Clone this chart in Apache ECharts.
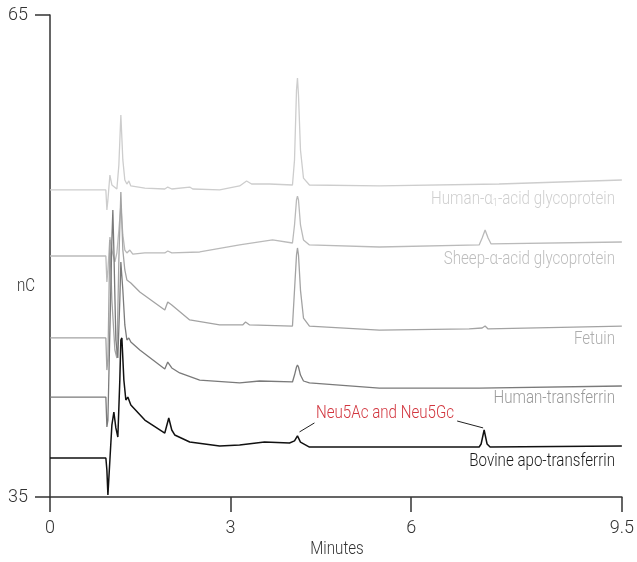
<!DOCTYPE html>
<html>
<head>
<meta charset="utf-8">
<script src="https://cdn.jsdelivr.net/npm/echarts@6/dist/echarts.min.js"></script>
<style>
html,body{margin:0;padding:0;background:#fff;}
#chart{width:637px;height:562px;}
</style>
</head>
<body>
<div id="chart"></div>
<script>
// ---- Data (minutes, nC) ----
const xTicks = [0, 3, 6, 9.5];
const yTicks = [35, 65];

const tAlpha1 = [0, 0.928, 0.945, 0.962, 0.995, 1.028, 1.111, 1.144, 1.177, 1.210, 1.243, 1.277, 1.310, 1.343, 1.575, 1.907, 1.956, 2.023, 2.321, 2.371, 2.818, 3.150, 3.266, 3.349, 3.647, 4.028, 4.062, 4.095, 4.111, 4.128, 4.161, 4.211, 4.310, 5.471, 7.460, 9.5];
const vAlpha1 = [54.11, 54.11, 52.86, 53.49, 55.04, 54.42, 54.17, 55.66, 58.78, 55.98, 54.73, 54.48, 54.67, 54.36, 54.23, 54.17, 54.29, 54.17, 54.29, 54.17, 54.11, 54.36, 54.67, 54.48, 54.48, 54.42, 55.98, 60.33, 61.08, 60.02, 56.6, 54.85, 54.42, 54.36, 54.48, 54.73];

const tSheep = [0, 0.928, 0.945, 0.962, 0.995, 1.028, 1.078, 1.111, 1.144, 1.177, 1.210, 1.243, 1.277, 1.326, 1.376, 1.575, 1.907, 1.956, 2.023, 2.487, 3.150, 3.697, 4.028, 4.062, 4.095, 4.111, 4.128, 4.161, 4.211, 4.310, 5.471, 7.129, 7.179, 7.228, 7.278, 7.328, 9.5];
const vSheep = [50.0, 50.0, 48.38, 49.13, 51.18, 50.37, 49.63, 50.19, 51.62, 53.17, 51.31, 50.37, 50.19, 50.37, 50.12, 50.19, 50.19, 50.31, 50.19, 50.25, 50.69, 51.0, 50.81, 51.93, 53.49, 53.73, 53.49, 51.93, 51.0, 50.69, 50.56, 50.69, 51.12, 51.62, 51.12, 50.75, 50.87];

const tFetuin = [0, 0.928, 0.945, 0.962, 0.995, 1.028, 1.078, 1.111, 1.144, 1.177, 1.210, 1.243, 1.277, 1.310, 1.343, 1.492, 1.907, 1.956, 2.023, 2.321, 2.818, 3.2, 3.249, 3.316, 4.028, 4.062, 4.095, 4.111, 4.128, 4.161, 4.211, 4.310, 5.471, 6.963, 7.179, 7.228, 7.278, 9.5];
const vFetuin = [44.9, 44.9, 42.9, 43.53, 51.0, 47.26, 44.15, 43.65, 49.75, 53.98, 50.37, 49.13, 48.51, 48.63, 48.32, 47.76, 46.64, 47.14, 46.95, 46.02, 45.71, 45.71, 45.89, 45.71, 45.64, 47.88, 50.06, 50.5, 50.06, 47.88, 46.14, 45.64, 45.39, 45.46, 45.52, 45.64, 45.46, 45.64];

const tHumanTf = [0, 0.928, 0.945, 0.962, 0.995, 1.028, 1.044, 1.061, 1.094, 1.127, 1.160, 1.177, 1.210, 1.243, 1.277, 1.310, 1.343, 1.492, 1.907, 1.956, 2.023, 2.155, 2.487, 3.150, 3.481, 4.028, 4.062, 4.095, 4.111, 4.128, 4.161, 4.211, 4.310, 5.471, 7.129, 9.5];
const vHumanTf = [41.22, 41.22, 39.36, 39.79, 45.39, 51.0, 52.86, 50.37, 44.77, 43.65, 47.26, 49.63, 47.88, 45.71, 44.77, 44.9, 44.65, 44.15, 42.97, 43.4, 43.03, 42.72, 42.28, 42.1, 42.22, 42.16, 42.59, 43.09, 43.22, 43.09, 42.59, 42.22, 42.1, 41.78, 41.78, 41.91];

const tBovine = [0, 0.928, 0.945, 0.962, 0.995, 1.028, 1.061, 1.094, 1.127, 1.160, 1.177, 1.194, 1.227, 1.260, 1.293, 1.343, 1.575, 1.907, 1.973, 2.023, 2.072, 2.321, 2.818, 3.150, 3.564, 3.979, 4.062, 4.111, 4.161, 4.310, 5.802, 7.129, 7.162, 7.212, 7.261, 7.311, 9.5];
const vBovine = [37.43, 37.43, 36.68, 35.13, 37.30, 39.48, 40.29, 39.3, 38.73, 42.28, 44.77, 44.9, 42.28, 41.04, 41.22, 40.73, 39.79, 38.98, 39.92, 39.17, 38.86, 38.42, 38.17, 38.24, 38.42, 38.36, 38.49, 38.8, 38.42, 38.11, 38.11, 38.11, 38.3, 39.17, 38.3, 38.11, 38.17];

const seriesNames = ['Human-α1-acid glycoprotein', 'Sheep-α-acid glycoprotein', 'Fetuin', 'Human-transferrin', 'Bovine apo-transferrin'];
const annotation = 'Neu5Ac and Neu5Gc';
// leader lines [from, to] in (minutes, nC)
const leader1 = [[4.145, 39.05], [4.393, 39.61]];
const leader2 = [[6.764, 39.73], [7.195, 39.30]];

// ---- Chart ----
const FONT = "Roboto, 'Liberation Sans', sans-serif";
const zip = (t, v) => t.map((x, i) => [x, v[i]]);

const traces = [
  {name: seriesNames[0], t: tAlpha1, v: vAlpha1, color: '#cdcdcd', w: 1.3},
  {name: seriesNames[1], t: tSheep, v: vSheep, color: '#bababa', w: 1.3},
  {name: seriesNames[2], t: tFetuin, v: vFetuin, color: '#a3a3a3', w: 1.3},
  {name: seriesNames[3], t: tHumanTf, v: vHumanTf, color: '#7a7a7a', w: 1.3},
  {name: seriesNames[4], t: tBovine, v: vBovine, color: '#111111', w: 1.5}
];

const chart = echarts.init(document.getElementById('chart'), null, {renderer: 'canvas'});

const series = traces.map((tr, i) => {
  const s = {
    name: tr.name,
    type: 'line',
    data: zip(tr.t, tr.v),
    showSymbol: false,
    symbol: 'none',
    animation: false,
    silent: true,
    lineStyle: {color: tr.color, width: tr.w},
    z: 2 + i
  };
  if (i === 4) {
    s.markLine = {
      silent: true,
      symbol: 'none',
      animation: false,
      label: {show: false},
      lineStyle: {color: '#222', width: 1, type: 'solid'},
      data: [
        [{coord: leader1[0]}, {coord: leader1[1]}],
        [{coord: leader2[0]}, {coord: leader2[1]}]
      ]
    };
  }
  return s;
});

const SX = 0.84;
function txt(text, x, y, color, align, extra) {
  const style = {text: text, fill: color, font: '300 18px ' + FONT, align: align, verticalAlign: 'middle'};
  if (extra) Object.assign(style, extra);
  return {type: 'text', x: x, y: y, scaleX: SX, originX: 0, originY: 0, silent: true, style: style};
}

chart.setOption({
  animation: false,
  backgroundColor: '#fff',
  grid: {left: 50, right: 14, top: 15, bottom: 65},
  xAxis: {
    type: 'value',
    min: 0, max: 9.5,
    axisLine: {show: true, onZero: false, lineStyle: {color: '#333', width: 1.5}},
    axisTick: {show: true, length: 15, customValues: xTicks, lineStyle: {color: '#333', width: 1.5}},
    axisLabel: {customValues: xTicks, color: '#333', fontSize: 18, fontWeight: 300, fontFamily: FONT, margin: 22},
    splitLine: {show: false}
  },
  yAxis: {
    type: 'value',
    min: 35, max: 65,
    axisLine: {show: true, onZero: false, lineStyle: {color: '#333', width: 1.5}},
    axisTick: {show: true, length: 15, customValues: yTicks, lineStyle: {color: '#333', width: 1.5}},
    axisLabel: {customValues: yTicks, color: '#333', fontSize: 18, fontWeight: 300, fontFamily: FONT, margin: 22},
    splitLine: {show: false}
  },
  graphic: [
    txt('Minutes', 337, 549, '#333', 'center'),
    txt('nC', 26, 286, '#333', 'center'),
    txt('Human-α{s|1}-acid glycoprotein', 615, 199, '#cfcfcf', 'right', {
      rich: {s: {fontSize: 11, fontFamily: FONT, fontWeight: 300, fill: '#cfcfcf', verticalAlign: 'bottom', padding: [9, 0, 0, 0]}}
    }),
    txt('Sheep-α-acid glycoprotein', 615, 259, '#bdbdbd', 'right'),
    txt('Fetuin', 615, 339, '#adadad', 'right'),
    txt('Human-transferrin', 615, 398, '#999999', 'right'),
    txt('Bovine apo-transferrin', 615, 461, '#1a1a1a', 'right'),
    txt(annotation, 316, 413, '#d2363f', 'left')
  ],
  series: series
});
</script>
</body>
</html>
